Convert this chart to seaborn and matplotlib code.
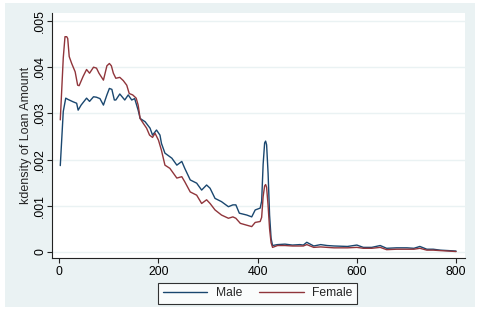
import numpy as np
import pandas as pd
import matplotlib
matplotlib.use("Agg")
import matplotlib.pyplot as plt
import seaborn as sns
from matplotlib.patches import Rectangle

# ---- data ----
male_x = [2, 8, 13, 18, 28, 35, 38, 44, 55, 61, 69, 75, 82, 89, 96, 101, 106, 111, 114,
          122, 132, 139, 146, 152, 159, 163, 173, 183, 188, 196, 203, 206, 213, 227, 237,
          247, 253, 264, 277, 287, 297, 304, 314, 327, 341, 350, 356, 363, 378, 388, 395,
          405, 408, 411, 414, 416, 418, 421, 424, 427, 430, 440, 455, 470, 485, 492, 499,
          506, 513, 527, 540, 554, 581, 600, 613, 630, 647, 660, 680, 701, 715, 727, 741,
          754, 768, 785, 800]
male_y = [.00187, .00304, .00333, .0033, .00325, .00322, .00307, .00318, .00333, .00326,
          .00336, .00335, .00332, .00318, .0034, .00354, .00352, .00329, .00329, .00342,
          .00329, .0034, .00329, .00332, .00307, .00289, .00282, .00268, .00253, .00264,
          .00253, .00235, .00214, .00203, .00188, .00196, .00181, .00156, .00149, .00134,
          .00145, .00138, .00116, .00109, .00098, .00102, .00102, .00084, .0008, .00076,
          .00091, .00095, .0011, .0019, .00236, .0024, .00232, .0017, .0008, .0003, .00014,
          .00016, .00017, .00015, .00016, .00015, .00021, .00017, .00013, .00016, .00014,
          .00013, .00012, .00015, .0001, .0001, .00014, .00008, .00009, .00009, .00008,
          .00012, .00006, .00006, .00004, .00003, .00002]

female_x = [2, 8, 11.5, 15, 17, 20, 25, 32, 37, 40, 48, 55, 61, 69, 75, 80, 89, 96, 101,
            105, 109, 114, 122, 129, 136, 141, 148, 155, 159, 163, 169, 176, 182, 188, 193,
            200, 206, 213, 223, 237, 247, 253, 264, 277, 287, 297, 304, 314, 327, 341, 350,
            356, 365, 378, 388, 395, 405, 408, 411, 414, 416, 418, 421, 424, 427, 430, 440,
            455, 470, 485, 492, 499, 506, 513, 527, 540, 554, 581, 600, 613, 630, 647, 660,
            680, 701, 715, 727, 741, 754, 768, 785, 800]
female_y = [.00286, .0042, .00466, .00466, .00462, .00423, .00408, .0039, .00361, .0036,
            .0038, .00395, .00387, .004, .00398, .00387, .00372, .00403, .00408, .00403,
            .00387, .00376, .00378, .00371, .00361, .00343, .0034, .00333, .00318, .00289,
            .00279, .00268, .00253, .00248, .00257, .00242, .0022, .00188, .00181, .0016,
            .00163, .00152, .0013, .00123, .00105, .00113, .00105, .00091, .0008, .00073,
            .00076, .00073, .00062, .00058, .00055, .00064, .00066, .00075, .0012, .00143,
            .00146, .0014, .001, .0005, .0002, .0001, .00014, .00014, .00013, .00013, .00013,
            .00016, .00013, .0001, .00011, .0001, .00009, .00009, .0001, .00008, .00008,
            .0001, .00005, .00006, .00006, .00006, .00008, .00004, .00004, .00003, .00002,
            .00001]

series_labels = ["Male", "Female"]
series_colors = ["#1a476f", "#90353b"]
x_ticks = [0, 200, 400, 600, 800]
y_ticks = [0, 0.001, 0.002, 0.003, 0.004, 0.005]
y_tick_labels = ["0", ".001", ".002", ".003", ".004", ".005"]
y_title = "kdensity of Loan Amount"

df = pd.concat([
    pd.DataFrame({"x": male_x, "d": male_y, "g": series_labels[0]}),
    pd.DataFrame({"x": female_x, "d": female_y, "g": series_labels[1]}),
], ignore_index=True)

sns.set_style("white")
plt.rcParams["font.family"] = ["Liberation Sans", "DejaVu Sans"]

W, H = 479, 312
fig = plt.figure(figsize=(W / 100, H / 100), dpi=100, facecolor="white")
bg = "#eaf2f3"
rect = Rectangle((5 / W, 1 - 307 / H), 470 / W, 304 / H,
                 transform=fig.transFigure, facecolor=bg,
                 edgecolor="none", zorder=-10)
fig.add_artist(rect)

ax = fig.add_axes([52 / W, 1 - 258 / H, (465 - 52) / W, (258 - 13) / H])
ax.set_zorder(1)
ax.set_facecolor("white")

sns.lineplot(data=df, x="x", y="d", hue="g", palette=series_colors,
             hue_order=series_labels, linewidth=1.0, ax=ax, legend=False,
             estimator=None, sort=False)

ax.set_xlim(-14.7, 818)
ax.set_ylim(-0.00013, 0.005173)
ax.set_xticks(x_ticks)
ax.set_xticklabels([str(v) for v in x_ticks], fontsize=8.8)
ax.set_yticks(y_ticks)
ax.set_yticklabels(y_tick_labels, fontsize=8.8, rotation=90, va="center")
ax.set_xlabel("")
ax.set_ylabel(y_title, fontsize=9, labelpad=1.5)

for s in ["top", "right"]:
    ax.spines[s].set_visible(False)
for s in ["left", "bottom"]:
    ax.spines[s].set_color("#222222")
    ax.spines[s].set_linewidth(0.8)
ax.tick_params(axis="y", direction="out", length=3.5, width=0.8, color="#222222",
               pad=0.8, labelcolor="black", left=True)
ax.tick_params(axis="x", direction="out", length=3.5, width=0.8, color="#222222",
               pad=2, labelcolor="black", bottom=True)
ax.yaxis.grid(True, color=bg, linewidth=1.0)
ax.set_axisbelow(True)

handles = [plt.Line2D([], [], color=c, linewidth=1.0) for c in series_colors]
leg = fig.legend(handles, series_labels, loc="center",
                 bbox_to_anchor=((158 + 357) / 2 / W, 1 - 293.5 / H),
                 ncol=2, fontsize=8.7, frameon=True, fancybox=False,
                 handlelength=3.7, handletextpad=0.7, columnspacing=1.4,
                 borderpad=0.35, borderaxespad=0)
leg.get_frame().set_edgecolor("black")
leg.get_frame().set_linewidth(0.8)
leg.get_frame().set_facecolor("white")

fig.savefig("out.png", dpi=100, facecolor="white")
